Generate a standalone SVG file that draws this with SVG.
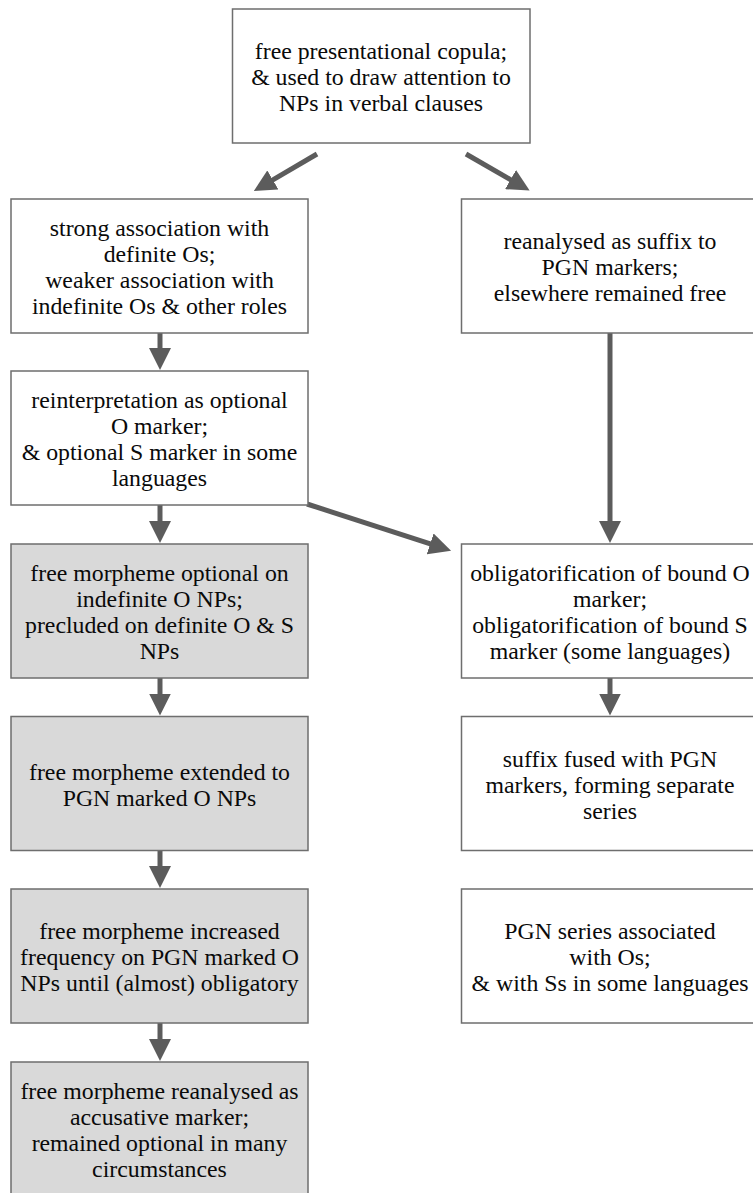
<svg xmlns="http://www.w3.org/2000/svg" width="753" height="1193" viewBox="0 0 753 1193">
<style>
.box{fill:#ffffff;stroke:#6e6e6e;stroke-width:1.5}
.gray{fill:#d9d9d9}
.arr{stroke:#5c5c5c;stroke-width:5;fill:none;marker-end:url(#ah)}
</style>
<defs>
<marker id="ah" viewBox="0 0 22 22" refX="1" refY="11" markerWidth="22" markerHeight="22" markerUnits="userSpaceOnUse" orient="auto">
<path d="M0,0 L22,11 L0,22 Z" fill="#5c5c5c"/>
</marker>
</defs>
<rect width="753" height="1193" fill="#ffffff"/>
<g id="connectors">
<line class="arr" x1="317" y1="154" x2="272" y2="180.4"/>
<line class="arr" x1="466" y1="154" x2="511.4" y2="180.1"/>
<line class="arr" x1="160" y1="333" x2="160" y2="349"/>
<line class="arr" x1="160" y1="505" x2="160" y2="522"/>
<line class="arr" x1="160" y1="678" x2="160" y2="694.5"/>
<line class="arr" x1="160" y1="850.5" x2="160" y2="867"/>
<line class="arr" x1="160" y1="1023" x2="160" y2="1040"/>
<line class="arr" x1="610" y1="333" x2="610" y2="522"/>
<line class="arr" x1="610" y1="678" x2="610" y2="694.5"/>
<line class="arr" x1="307" y1="504" x2="431.1" y2="544.2"/>
</g>
<g font-size="23.8" fill="#0a0a0a" text-anchor="middle">
<g id="n_top">
<rect class="box" x="232.5" y="9" width="297.5" height="134"/>
<text font-family="Liberation Serif" x="381" y="59">free presentational copula;</text>
<text font-family="Liberation Serif" x="381" y="85">&amp; used to draw attention to</text>
<text font-family="Liberation Serif" x="381" y="111">NPs in verbal clauses</text>
</g>
<g id="n_strong">
<rect class="box" x="11" y="199" width="297" height="134"/>
<text font-family="Liberation Serif" x="159.5" y="236">strong association with</text>
<text font-family="Liberation Serif" x="159.5" y="262">definite Os;</text>
<text font-family="Liberation Serif" x="159.5" y="288">weaker association with</text>
<text font-family="Liberation Serif" x="159.5" y="314">indefinite Os &amp; other roles</text>
</g>
<g id="n_reanalysed">
<rect class="box" x="461.5" y="199" width="297" height="134"/>
<text font-family="Liberation Serif" x="610" y="248.5">reanalysed as suffix to</text>
<text font-family="Liberation Serif" x="610" y="274.5">PGN markers;</text>
<text font-family="Liberation Serif" x="610" y="300.5">elsewhere remained free</text>
</g>
<g id="n_reinterp">
<rect class="box" x="11" y="371" width="297" height="134"/>
<text font-family="Liberation Serif" x="159.5" y="408">reinterpretation as optional</text>
<text font-family="Liberation Serif" x="159.5" y="434">O marker;</text>
<text font-family="Liberation Serif" x="159.5" y="460">&amp; optional S marker in some</text>
<text font-family="Liberation Serif" x="159.5" y="486">languages</text>
</g>
<g id="n_free_opt">
<rect class="box gray" x="11" y="544" width="297" height="134"/>
<text font-family="Liberation Serif" x="159.5" y="581">free morpheme optional on</text>
<text font-family="Liberation Serif" x="159.5" y="607">indefinite O NPs;</text>
<text font-family="Liberation Serif" x="159.5" y="633">precluded on definite O &amp; S</text>
<text font-family="Liberation Serif" x="159.5" y="659">NPs</text>
</g>
<g id="n_oblig">
<rect class="box" x="461.5" y="544" width="297" height="134"/>
<text font-family="Liberation Serif" x="610" y="581">obligatorification of bound O</text>
<text font-family="Liberation Serif" x="610" y="607">marker;</text>
<text font-family="Liberation Serif" x="610" y="633">obligatorification of bound S</text>
<text font-family="Liberation Serif" x="610" y="659">marker (some languages)</text>
</g>
<g id="n_extended">
<rect class="box gray" x="11" y="716.5" width="297" height="134"/>
<text font-family="Liberation Serif" x="159.5" y="779.5">free morpheme extended to</text>
<text font-family="Liberation Serif" x="159.5" y="805.5">PGN marked O NPs</text>
</g>
<g id="n_fused">
<rect class="box" x="461.5" y="716.5" width="297" height="134"/>
<text font-family="Liberation Serif" x="610" y="766.5">suffix fused with PGN</text>
<text font-family="Liberation Serif" x="610" y="792.5">markers, forming separate</text>
<text font-family="Liberation Serif" x="610" y="818.5">series</text>
</g>
<g id="n_increased">
<rect class="box gray" x="11" y="889" width="297" height="134"/>
<text font-family="Liberation Serif" x="159.5" y="939">free morpheme increased</text>
<text font-family="Liberation Serif" x="159.5" y="965">frequency on PGN marked O</text>
<text font-family="Liberation Serif" x="159.5" y="991">NPs until (almost) obligatory</text>
</g>
<g id="n_pgn_series">
<rect class="box" x="461.5" y="889" width="297" height="134"/>
<text font-family="Liberation Serif" x="610" y="939">PGN series associated</text>
<text font-family="Liberation Serif" x="610" y="965">with Os;</text>
<text font-family="Liberation Serif" x="610" y="991">&amp; with Ss in some languages</text>
</g>
<g id="n_accusative">
<rect class="box gray" x="11" y="1062" width="297" height="140"/>
<text font-family="Liberation Serif" x="159.5" y="1099">free morpheme reanalysed as</text>
<text font-family="Liberation Serif" x="159.5" y="1125">accusative marker;</text>
<text font-family="Liberation Serif" x="159.5" y="1151">remained optional in many</text>
<text font-family="Liberation Serif" x="159.5" y="1177">circumstances</text>
</g>
</g>
</svg>
